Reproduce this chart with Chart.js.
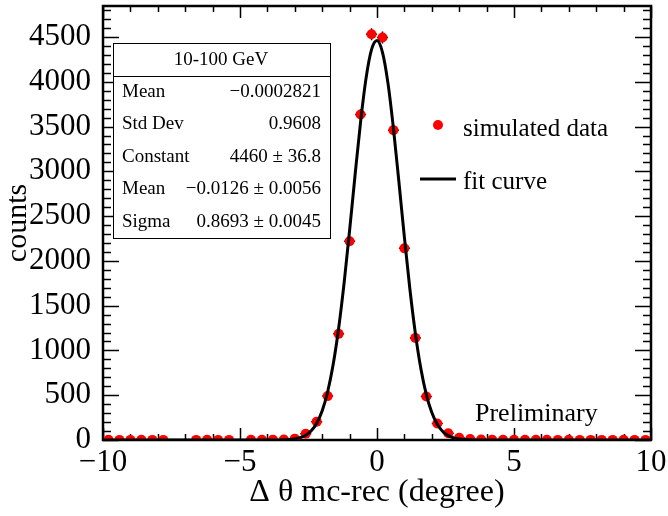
<!DOCTYPE html>
<html>
<head>
<meta charset="utf-8">
<script src="https://cdn.jsdelivr.net/npm/chart.js@4.4.1/dist/chart.umd.min.js"></script>
<style>
  body { margin: 0; background: #fff; }
  #wrap { width: 668px; height: 516px; position: relative; }
</style>
</head>
<body>
<div id="wrap"><canvas id="fitChart"></canvas></div>
<script>
const FONT = "'Liberation Serif', 'DejaVu Serif', serif";

// histogram bins (degree) and counts; null = empty bin
const binCenters = [-9.8, -9.4, -9.0, -8.6, -8.2, -7.8, -7.4, -7.0, -6.6, -6.2,
  -5.8, -5.4, -5.0, -4.6, -4.2, -3.8, -3.4, -3.0, -2.6, -2.2,
  -1.8, -1.4, -1.0, -0.6, -0.2, 0.2, 0.6, 1.0, 1.4, 1.8,
  2.2, 2.6, 3.0, 3.4, 3.8, 4.2, 4.6, 5.0, 5.4, 5.8,
  6.2, 6.6, 7.0, 7.4, 7.8, 8.2, 8.6, 9.0, 9.4, 9.8];
const counts = [2, 1, 1, 2, 1, 1, null, null, 1, 2,
  1, 1, null, 2, 2, 4, 6, 15, 70, 205,
  490, 1185, 2220, 3635, 4530, 4495, 3460, 2140, 1140, 485,
  185, 75, 25, 10, 5, 4, 3, 3, 2, 2,
  2, 1, 2, 1, 1, 1, 1, 2, 1, 1];
const binHalfWidth = 0.2;

// fit curve
const curveX = [-10, -4.0, -3.6, -3.4, -3.2, -3.0, -2.8, -2.6, -2.4, -2.2, -2.0,
  -1.8, -1.6, -1.4, -1.2, -1.0, -0.8, -0.6, -0.4, -0.2, 0.0,
  0.2, 0.4, 0.6, 0.8, 1.0, 1.2, 1.4, 1.6, 1.8, 2.0,
  2.2, 2.4, 2.6, 2.8, 3.0, 3.2, 3.4, 3.6, 4.0, 10];
const curveY = [0, 0, 1, 2, 5, 12, 26, 53, 103, 188, 327,
  539, 842, 1248, 1755, 2340, 2959, 3550, 4038, 4358, 4460,
  4329, 3985, 3479, 2881, 2263, 1686, 1191, 798, 507, 306,
  175, 95, 49, 24, 11, 5, 2, 1, 0, 0];

const xTickValues = [-10, -5, 0, 5, 10];
const yTickValues = [0, 500, 1000, 1500, 2000, 2500, 3000, 3500, 4000, 4500];

const statsTitle = '10-100 GeV';
const statsLabels = ['Mean', 'Std Dev', 'Constant', 'Mean', 'Sigma'];
const statsValues = ['\u22120.0002821', '0.9608', '4460 \u00b1 36.8', '\u22120.0126 \u00b1 0.0056', '0.8693 \u00b1 0.0045'];
const legendLabels = ['simulated data', 'fit curve'];

const ctx = document.getElementById('fitChart').getContext('2d');

// frame with inward ROOT-style ticks, plus error bars under the markers
const framePlugin = {
  id: 'frame',
  beforeDatasetsDraw(chart) {
    const { ctx, chartArea: a, scales: { x, y } } = chart;
    ctx.save();
    ctx.strokeStyle = '#000';
    ctx.lineWidth = 1.5;
    for (let v = -10; v <= 10; v += 1) {
      const px = Math.round(x.getPixelForValue(v)) + 0.5;
      const len = v % 5 === 0 ? 12 : 6;
      ctx.beginPath();
      ctx.moveTo(px, a.bottom); ctx.lineTo(px, a.bottom - len);
      ctx.moveTo(px, a.top); ctx.lineTo(px, a.top + len);
      ctx.stroke();
    }
    for (let v = 0; v <= y.max; v += 100) {
      const py = Math.round(y.getPixelForValue(v)) + 0.5;
      const len = v % 500 === 0 ? 16 : 8;
      ctx.beginPath();
      ctx.moveTo(a.left, py); ctx.lineTo(a.left + len, py);
      ctx.moveTo(a.right, py); ctx.lineTo(a.right - len, py);
      ctx.stroke();
    }
    ctx.lineWidth = 2.5;
    ctx.strokeRect(a.left, a.top, a.right - a.left, a.bottom - a.top);

    // error bars
    ctx.lineWidth = 1.5;
    binCenters.forEach((c, i) => {
      const n = counts[i];
      if (n === null) return;
      const px = x.getPixelForValue(c);
      const py = y.getPixelForValue(n);
      const e = Math.sqrt(n);
      ctx.beginPath();
      ctx.moveTo(x.getPixelForValue(c - binHalfWidth), py);
      ctx.lineTo(x.getPixelForValue(c + binHalfWidth), py);
      ctx.moveTo(px, y.getPixelForValue(n - e));
      ctx.lineTo(px, y.getPixelForValue(n + e));
      ctx.stroke();
    });
    ctx.restore();
  },
  afterDraw(chart) {
    const { ctx } = chart;
    ctx.save();
    // stats box
    ctx.fillStyle = '#fff';
    ctx.fillRect(113, 43, 217, 195);
    ctx.strokeStyle = '#000';
    ctx.lineWidth = 1;
    ctx.strokeRect(113.5, 43.5, 217, 195);
    ctx.beginPath();
    ctx.moveTo(113, 76.5); ctx.lineTo(330, 76.5);
    ctx.stroke();
    ctx.fillStyle = '#000';
    ctx.font = `19px ${FONT}`;
    ctx.textBaseline = 'middle';
    ctx.textAlign = 'center';
    ctx.fillText(statsTitle, 221, 60);
    statsLabels.forEach((lab, i) => {
      const ty = 92 + i * 32.5;
      ctx.textAlign = 'left';
      ctx.fillText(lab, 122, ty);
      ctx.textAlign = 'right';
      ctx.fillText(statsValues[i], 321, ty);
    });

    // legend
    ctx.fillStyle = '#ff0000';
    ctx.beginPath();
    ctx.arc(438, 125, 5, 0, Math.PI * 2);
    ctx.fill();
    ctx.strokeStyle = '#000';
    ctx.lineWidth = 3;
    ctx.beginPath();
    ctx.moveTo(420, 179); ctx.lineTo(456, 179);
    ctx.stroke();
    ctx.fillStyle = '#000';
    ctx.font = `25px ${FONT}`;
    ctx.textAlign = 'left';
    ctx.fillText(legendLabels[0], 463, 129);
    ctx.fillText(legendLabels[1], 463, 182);

    ctx.font = `26px ${FONT}`;
    ctx.textBaseline = 'alphabetic';
    ctx.fillText('Preliminary', 475, 421);
    ctx.restore();
  }
};

const chart = new Chart(ctx, {
  type: 'scatter',
  data: {
    datasets: [
      {
        label: legendLabels[1],
        data: curveX.map((v, i) => ({ x: v, y: curveY[i] })),
        showLine: true,
        borderColor: '#000',
        borderWidth: 3,
        pointRadius: 0,
        cubicInterpolationMode: 'monotone'
      },
      {
        label: legendLabels[0],
        data: binCenters.map((v, i) => ({ x: v, y: counts[i] })),
        backgroundColor: '#ff0000',
        borderColor: '#ff0000',
        borderWidth: 0,
        pointRadius: 5
      }
    ]
  },
  options: {
    responsive: true,
    maintainAspectRatio: false,
    animation: false,
    layout: { padding: { top: 6, right: 17, left: 0, bottom: 0 } },
    plugins: {
      legend: { display: false },
      tooltip: { enabled: false }
    },
    scales: {
      x: {
        type: 'linear',
        min: -10,
        max: 10,
        grid: { display: false },
        border: { display: false },
        afterBuildTicks: s => { s.ticks = xTickValues.map(v => ({ value: v })); },
        ticks: {
          color: '#000',
          padding: -4,
          maxRotation: 0,
          autoSkip: false,
          font: { family: FONT, size: 31 },
          callback: v => String(v).replace('-', '\u2212')
        },
        title: {
          display: true,
          text: '\u0394 \u03b8 mc-rec (degree)',
          color: '#000',
          font: { family: FONT, size: 32 },
          padding: { top: 0, bottom: 4 }
        },
        afterFit: s => { s.height = 76; s.paddingLeft = 0; s.paddingRight = 0; }
      },
      y: {
        min: 0,
        max: 4846,
        grid: { display: false },
        border: { display: false },
        afterBuildTicks: s => { s.ticks = yTickValues.map(v => ({ value: v })); },
        ticks: {
          color: '#000',
          padding: 4,
          autoSkip: false,
          font: { family: FONT, size: 31 },
          callback: v => String(v)
        },
        title: {
          display: true,
          text: 'counts',
          color: '#000',
          font: { family: FONT, size: 30 },
          padding: { top: 0, bottom: 0 }
        },
        afterFit: s => { s.width = 103; s.paddingTop = 0; s.paddingBottom = 0; }
      }
    }
  },
  plugins: [framePlugin]
});
</script>
</body>
</html>
